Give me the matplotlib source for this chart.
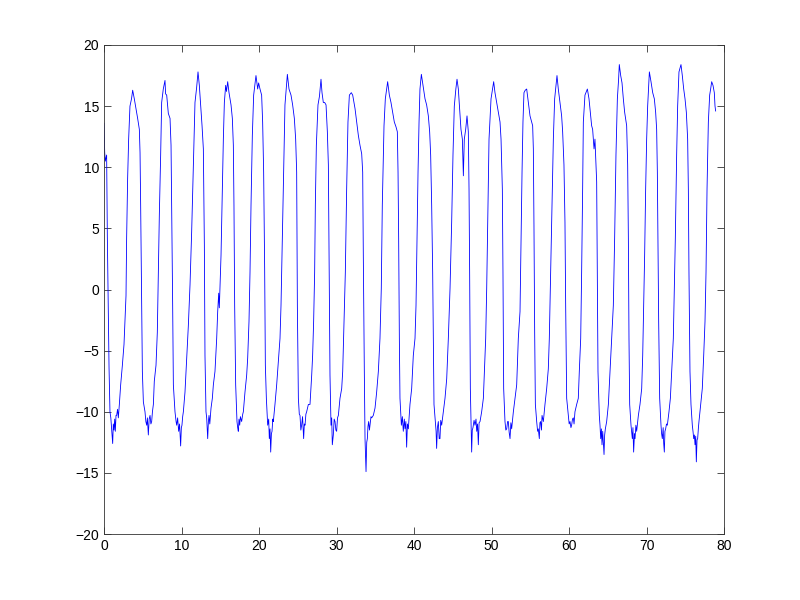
import numpy as np
import matplotlib
matplotlib.use('Agg')
import matplotlib.pyplot as plt

# signal, one line per cycle (trough -> peak -> fall)
t = [
    0.00, 0.09, 0.17, 0.34, 0.43, 0.56, 0.65, 0.77, 0.88, 0.99, 1.12, 1.20, 1.29, 1.38, 1.46, 1.55, 1.63, 1.75, 1.85, 1.98,
    2.15, 2.37, 2.58, 2.71, 2.84, 2.92, 3.05, 3.18, 3.35, 3.55, 3.70, 3.91, 4.13, 4.34, 4.56, 4.65, 4.73, 4.86, 4.95, 5.08,
    5.29, 5.40, 5.51, 5.60, 5.72, 5.83, 5.94, 6.05, 6.15, 6.25, 6.37, 6.49, 6.71, 6.88, 7.01, 7.14, 7.31, 7.44, 7.65, 7.87,
    7.95, 8.09, 8.30, 8.52, 8.65, 8.73, 8.86, 8.95, 9.16,
    9.30, 9.38, 9.50, 9.63, 9.75, 9.89, 9.98, 10.06, 10.15, 10.24, 10.45, 10.67, 10.88, 11.10, 11.31, 11.53, 11.74, 11.95,
    12.13, 12.30, 12.47, 12.65, 12.82, 12.95, 13.03, 13.16,
    13.25, 13.38, 13.47, 13.55, 13.65, 13.81, 13.98, 14.11, 14.32, 14.54, 14.67, 14.80, 14.88, 15.10, 15.27, 15.40, 15.53,
    15.70, 15.80, 15.96, 16.13, 16.39, 16.56, 16.69, 16.77, 16.86, 16.99, 17.16,
    17.25, 17.33, 17.42, 17.51, 17.60, 17.76, 17.90, 17.98, 18.19, 18.41, 18.54, 18.71, 18.84, 18.97, 19.14, 19.31, 19.61,
    19.83, 19.95, 20.13, 20.34, 20.47, 20.60, 20.73, 20.82, 20.95,
    21.12, 21.25, 21.33, 21.42, 21.51, 21.60, 21.68, 21.78, 21.85, 22.06, 22.28, 22.49, 22.71, 22.84, 23.01, 23.18, 23.35,
    23.66, 23.87, 24.13, 24.34, 24.56, 24.73, 24.86, 24.95, 25.08,
    25.20, 25.29, 25.40, 25.50, 25.62, 25.76, 25.85, 25.94, 26.05, 26.15, 26.37, 26.58, 26.80, 26.92, 27.05, 27.18, 27.27,
    27.40, 27.61, 27.80, 28.00, 28.13, 28.30, 28.47, 28.65, 28.82, 28.95, 29.03, 29.16, 29.29,
    29.38, 29.46, 29.59, 29.70, 29.81, 29.92, 30.02, 30.13, 30.24, 30.45, 30.67, 30.80, 30.97, 31.14, 31.31, 31.48, 31.66,
    31.91, 32.09, 32.39, 32.60, 32.82, 33.03, 33.25, 33.38, 33.46, 33.59, 33.68,
    33.81, 33.90, 33.98, 34.06, 34.15, 34.25, 34.32, 34.45, 34.54, 34.75, 34.97, 35.18, 35.40, 35.61, 35.78, 35.91, 36.13,
    36.30, 36.60, 36.82, 37.03, 37.25, 37.46, 37.68, 37.85, 37.94, 38.02, 38.11, 38.19,
    38.37, 38.50, 38.62, 38.75, 38.84, 38.95, 39.05, 39.15, 39.27, 39.48, 39.70, 39.91, 40.13, 40.26, 40.39, 40.52, 40.65,
    40.77, 40.95, 41.16, 41.42, 41.63, 41.85, 42.02, 42.15, 42.28, 42.41, 42.49, 42.58,
    42.75, 42.85, 42.92, 43.02, 43.14, 43.25, 43.35, 43.45, 43.57, 43.78, 44.00, 44.22, 44.43, 44.65, 44.86, 45.03, 45.20,
    45.40, 45.55, 45.72, 45.89, 46.06, 46.24, 46.37, 46.49, 46.67, 46.84, 47.01, 47.10, 47.18, 47.27,
    47.44, 47.52, 47.61, 47.75, 47.87, 48.00, 48.09, 48.20, 48.30, 48.40, 48.52, 48.73, 48.95, 49.08, 49.25, 49.38, 49.51,
    49.68, 49.94, 50.28, 50.45, 50.67, 50.88, 51.10, 51.23, 51.40, 51.48, 51.57,
    51.74, 51.85, 51.96, 52.08, 52.17, 52.28, 52.39, 52.50, 52.60, 52.82, 53.03, 53.25, 53.46, 53.68, 53.81, 53.94, 54.06,
    54.19, 54.35, 54.54, 54.75, 54.97, 55.18, 55.31, 55.40, 55.48, 55.57, 55.66,
    55.83, 55.95, 56.04, 56.17, 56.25, 56.34, 56.45, 56.52, 56.69, 56.90, 57.12, 57.33, 57.46, 57.63, 57.81, 57.98, 58.15,
    58.45, 58.62, 58.84, 59.05, 59.18, 59.35, 59.48, 59.57, 59.70,
    59.91, 60.02, 60.13, 60.25, 60.34, 60.45, 60.56, 60.65, 60.77, 60.99, 61.20, 61.33, 61.51, 61.63, 61.76, 61.85, 62.06,
    62.37, 62.58, 62.80, 62.92, 63.05, 63.23, 63.35, 63.57, 63.66, 63.74,
    63.91, 64.00, 64.09, 64.18, 64.26, 64.35, 64.45, 64.52, 64.60, 64.69, 64.86, 65.08, 65.29, 65.51, 65.72, 65.89, 66.06,
    66.24, 66.40, 66.49, 66.67, 66.84, 67.01, 67.18, 67.44, 67.57, 67.66, 67.74, 67.83,
    68.00, 68.10, 68.17, 68.25, 68.34, 68.45, 68.52, 68.63, 68.73, 68.95, 69.16, 69.38, 69.51, 69.63, 69.76, 69.89, 70.02,
    70.15, 70.37, 70.58, 70.80, 71.01, 71.18, 71.31, 71.40, 71.48, 71.57, 71.70,
    71.87, 71.95, 72.04, 72.15, 72.22, 72.30, 72.38, 72.47, 72.58, 72.69, 72.90, 73.08, 73.25, 73.46, 73.59, 73.72, 73.89,
    74.02, 74.19, 74.45, 74.62, 74.80, 74.97, 75.14, 75.31, 75.40, 75.48, 75.61, 75.74,
    75.91, 76.00, 76.09, 76.18, 76.26, 76.35, 76.43, 76.52, 76.60, 76.70, 76.77, 76.99, 77.20, 77.38, 77.55, 77.68, 77.81,
    77.98, 78.15, 78.30, 78.41, 78.58, 78.75, 78.84, 78.92,
]
v = [
    13.6, 11.2, 10.5, 11.0, 4.4, -1.8, -6.4, -10.0, -10.5, -11.5, -12.6, -11.0, -11.5, -10.6, -11.6, -10.3, -10.3, -9.8, -10.5, -9.4,
    -7.8, -6.2, -4.5, -2.6, -0.5, 4.2, 9.1, 12.3, 15.0, 15.6, 16.3, 15.6, 14.8, 14.0, 13.1, 11.2, 6.9, -1.3, -6.7, -9.2,
    -10.0, -10.8, -11.1, -10.5, -11.9, -10.6, -10.3, -11.0, -10.8, -10.0, -9.4, -7.5, -6.2, -3.5, 1.4, 6.1, 11.0, 15.3, 16.4, 17.1,
    16.0, 15.9, 14.4, 14.0, 11.8, 6.9, -1.3, -7.8, -10.0,
    -10.8, -11.1, -10.5, -11.6, -11.0, -12.8, -11.3, -11.1, -10.4, -10.0, -8.4, -5.6, -3.0, 0.4, 4.7, 10.2, 15.3, 16.5,
    17.8, 16.7, 15.1, 13.4, 11.5, 3.6, -5.4, -10.0,
    -10.5, -12.2, -10.8, -10.3, -11.0, -9.7, -8.9, -7.8, -6.7, -4.0, -1.8, -0.3, -1.5, 2.8, 8.2, 12.3, 15.3,
    16.7, 16.2, 17.0, 16.1, 15.1, 14.0, 11.8, 6.9, -1.3, -7.8, -10.8,
    -11.3, -11.6, -10.6, -11.1, -10.4, -10.8, -10.2, -10.0, -8.4, -7.0, -5.6, -2.6, 1.4, 6.9, 12.6, 15.9, 17.5,
    16.4, 16.9, 16.4, 15.9, 13.7, 9.6, 1.7, -6.2, -8.9,
    -11.1, -10.6, -12.2, -11.4, -13.3, -11.8, -11.6, -10.6, -10.8, -9.4, -7.8, -5.9, -4.0, -1.3, 4.2, 9.6, 15.1,
    17.6, 16.4, 15.9, 15.1, 14.0, 12.3, 9.6, -1.3, -8.9,
    -10.2, -10.3, -11.5, -11.1, -10.4, -12.2, -11.0, -11.1, -10.2, -10.0, -9.4, -9.4, -7.0, -5.4, -2.6, 1.4, 6.9,
    11.8, 15.1, 15.8, 17.2, 16.1, 15.3, 15.3, 15.1, 12.9, 10.2, 3.6, -7.0, -11.1,
    -10.5, -12.7, -11.9, -10.6, -10.8, -11.5, -11.6, -10.5, -10.3, -8.9, -8.1, -6.7, -2.6, 1.4, 8.2, 13.7, 15.9,
    16.1, 15.9, 14.8, 13.7, 12.6, 11.8, 11.1, 9.6, 2.8, -6.7, -12.2,
    -14.9, -12.5, -12.2, -11.2, -10.8, -11.5, -11.1, -10.4, -10.5, -10.3, -9.7, -8.4, -6.7, -4.0, 0.1, 6.9, 13.4,
    15.6, 17.0, 15.9, 15.3, 14.5, 13.7, 13.3, 12.9, 9.6, 4.2, -4.0, -8.9,
    -11.1, -10.4, -11.6, -10.6, -11.4, -10.8, -12.9, -11.0, -11.4, -9.4, -8.1, -5.4, -4.0, -1.3, 4.2, 9.6, 13.7,
    16.4, 17.6, 16.7, 15.6, 15.1, 14.2, 12.9, 11.0, 6.9, 1.4, -4.0, -9.4,
    -10.8, -11.6, -13.0, -11.3, -10.8, -12.2, -12.2, -10.7, -11.1, -10.0, -8.9, -7.3, -4.0, 0.1, 5.5, 11.0, 15.0,
    16.4, 17.2, 16.4, 14.8, 13.1, 12.3, 9.3, 12.3, 13.1, 14.2, 12.9, 8.2, 1.4, -8.1,
    -13.3, -11.5, -11.3, -10.7, -11.1, -10.6, -11.6, -11.0, -12.7, -10.9, -10.8, -10.0, -8.9, -6.7, -4.0, 0.1, 5.5,
    12.3, 15.6, 17.0, 16.1, 15.3, 14.5, 13.7, 12.3, 8.2, 1.4, -8.1,
    -10.8, -11.5, -11.4, -10.8, -10.8, -11.7, -12.2, -10.9, -11.4, -10.0, -8.9, -7.8, -4.0, -1.8, 4.2, 9.6, 13.7,
    16.1, 16.3, 16.4, 15.3, 14.2, 13.7, 13.4, 11.5, 5.2, -3.5, -9.4,
    -10.8, -11.6, -11.4, -12.2, -10.9, -10.8, -11.5, -10.3, -10.8, -9.4, -8.1, -6.5, -4.0, 1.4, 6.9, 12.3, 15.6,
    17.5, 16.4, 15.3, 14.2, 12.9, 10.2, 5.5, -1.3, -8.9,
    -10.3, -11.0, -10.8, -11.3, -11.1, -10.6, -10.5, -11.0, -10.0, -9.4, -8.9, -6.7, -4.0, 1.4, 8.2, 13.7, 15.9,
    16.4, 15.6, 14.2, 13.4, 13.1, 11.5, 12.3, 8.8, 0.1, -6.7,
    -10.3, -11.1, -12.2, -11.4, -12.7, -11.6, -12.8, -13.5, -11.9, -11.4, -10.8, -9.4, -6.7, -4.0, -1.3, 4.2, 11.0,
    15.6, 17.2, 18.4, 17.5, 16.9, 15.6, 14.5, 13.4, 10.2, 4.2, -4.0, -9.4,
    -11.1, -11.8, -12.2, -11.3, -13.3, -11.8, -12.2, -11.1, -11.6, -10.3, -9.4, -8.1, -5.4, -1.3, 2.8, 8.2, 12.3,
    15.0, 17.8, 17.0, 16.1, 15.6, 14.5, 13.1, 9.6, 4.2, -2.6, -8.9,
    -11.1, -11.8, -12.2, -11.3, -12.6, -13.3, -11.6, -11.4, -11.0, -11.1, -10.0, -8.9, -6.7, -4.0, 0.1, 4.2, 11.0,
    15.0, 17.8, 18.4, 17.5, 16.4, 15.6, 14.5, 12.3, 8.2, 1.4, -6.7, -9.4,
    -11.1, -11.6, -12.2, -11.9, -12.7, -12.0, -14.1, -12.3, -12.2, -11.3, -10.8, -9.4, -8.1, -5.4, -2.6, 1.4, 8.2,
    13.7, 15.9, 16.5, 17.0, 16.7, 16.1, 15.0, 14.6,
]

x_ticks = [0, 10, 20, 30, 40, 50, 60, 70, 80]
y_ticks = [-20, -15, -10, -5, 0, 5, 10, 15, 20]

plt.rcParams['font.family'] = ['Liberation Sans', 'DejaVu Sans']

fig = plt.figure(figsize=(8, 6), dpi=100, facecolor='white')
ax = fig.add_axes([0.13, 0.11, 0.775, 0.815])
ax.plot(t, v, color=(0, 0, 1), linewidth=0.6)

ax.set_xlim(0, 80)
ax.set_ylim(-20, 20)
ax.set_xticks(x_ticks)
ax.set_yticks(y_ticks)
ax.tick_params(direction='in', top=True, right=True, length=5, width=0.6,
               labelsize=10, color='#333333')
for s in ax.spines.values():
    s.set_linewidth(0.6)
    s.set_color('#333333')

plt.savefig('out.png', dpi=100, facecolor='white')
plt.close()
